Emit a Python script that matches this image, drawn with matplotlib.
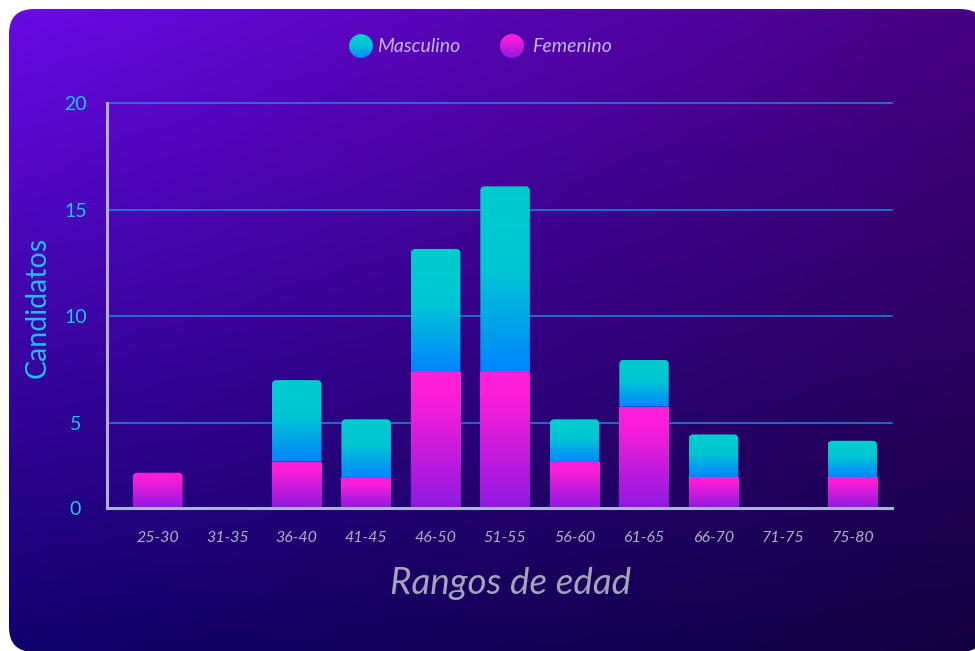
import numpy as np
import matplotlib
matplotlib.use("Agg")
import matplotlib.pyplot as plt
from matplotlib.colors import LinearSegmentedColormap, to_rgb
from matplotlib.patches import FancyBboxPatch, Circle, PathPatch, Rectangle
from matplotlib.path import Path

plt.rcParams["font.family"] = ["Lato", "DejaVu Sans"]

# data
rangos = ["25-30", "31-35", "36-40", "41-45", "46-50", "51-55",
          "56-60", "61-65", "66-70", "71-75", "75-80"]
femenino = [2.65, 0, 3.17, 2.38, 7.37, 7.37, 3.15, 5.75, 2.45, 0, 2.45]
masculino = [0, 0, 3.83, 2.78, 5.79, 8.73, 2.01, 2.2, 2.0, 0, 1.7]
y_ticks = [5, 10, 15, 20]
y_bottom = 0.98

W, H = 975, 651
fig = plt.figure(figsize=(W / 100, H / 100), dpi=100, facecolor="white")

# background card, in pixel coordinates
bg = fig.add_axes([0, 0, 1, 1], zorder=0)
bg.set_xlim(0, W)
bg.set_ylim(H, 0)
bg.axis("off")

tl, tr = np.array(to_rgb("#6a0ae8")), np.array(to_rgb("#460082"))
bl, br = np.array(to_rgb("#10006c")), np.array(to_rgb("#110040"))
u = np.linspace(0, 1, 200)[None, :, None]
v = np.linspace(0, 1, 140)[:, None, None]
img = (1 - v) * ((1 - u) * tl + u * tr) + v * ((1 - u) * bl + u * br)
card = FancyBboxPatch((9, 9), 976, 643, boxstyle="round,pad=0,rounding_size=25",
                      facecolor="none", edgecolor="none")
bg.add_patch(card)
im = bg.imshow(img, extent=(0, W, H, 0), aspect="auto", interpolation="bilinear")
im.set_clip_path(card)

masc_cmap = LinearSegmentedColormap.from_list(
    "masc", [(0, "#0084ff"), (0.55, "#00c6d4"), (1, "#00cccc")])
fem_cmap = LinearSegmentedColormap.from_list(
    "fem", [(0, "#8f19e0"), (0.85, "#ff1ed8"), (1, "#ff1ed8")])

# legend
grad = np.linspace(1, 0, 64)[:, None]
for cx, name, cmap, tx in [(361, "Masculino", masc_cmap, 377),
                           (512, "Femenino", fem_cmap, 532)]:
    c = Circle((cx, 46), 12, facecolor="none", edgecolor="none")
    bg.add_patch(c)
    ci = bg.imshow(cmap(grad), extent=(cx - 12, cx + 12, 58, 34), aspect="auto")
    ci.set_clip_path(c)
    bg.text(tx, 47, name, color="#c4b4e4", fontsize=14, fontstyle="italic",
            va="center", ha="left")

bg.set_xlim(0, W)
bg.set_ylim(H, 0)

# main chart
ax = fig.add_axes([107 / W, (H - 508.3) / H, 785 / W, 405 / H], zorder=1)
ax.patch.set_alpha(0)
x = np.arange(len(rangos))
x_lo, x_hi = -0.731, 10.57

fem_bars = ax.bar(x, femenino, width=0.713, color="none", edgecolor="none")
masc_bars = ax.bar(x, masculino, width=0.713, bottom=femenino,
                   color="none", edgecolor="none")

ax.set_xlim(x_lo, x_hi)
ax.set_ylim(y_bottom, 20)

# corner radius in data units (about 4 px)
rx = 4 / (785 / (x_hi - x_lo))
ry = 4 / (405 / (20 - y_bottom))


def top_round(x0, x1, y0, y1):
    k = 0.5523
    verts = [(x0, y0), (x0, y1 - ry), (x0, y1 - ry + k * ry), (x0 + rx - k * rx, y1),
             (x0 + rx, y1), (x1 - rx, y1), (x1 - rx + k * rx, y1),
             (x1, y1 - ry + k * ry), (x1, y1 - ry), (x1, y0), (x0, y0)]
    codes = [Path.MOVETO, Path.LINETO, Path.CURVE4, Path.CURVE4, Path.CURVE4,
             Path.LINETO, Path.CURVE4, Path.CURVE4, Path.CURVE4, Path.LINETO,
             Path.CLOSEPOLY]
    return Path(verts, codes)


col = np.linspace(0, 1, 128)[:, None]
for fb, mb in zip(fem_bars, masc_bars):
    for bar, cmap, is_top in [(fb, fem_cmap, mb.get_height() == 0),
                              (mb, masc_cmap, True)]:
        h = bar.get_height()
        if h <= 0:
            continue
        x0 = bar.get_x()
        x1 = x0 + bar.get_width()
        y1 = bar.get_y() + h
        y0 = max(bar.get_y(), y_bottom)
        if is_top:
            clip = PathPatch(top_round(x0, x1, y0, y1), transform=ax.transData,
                             facecolor="none", edgecolor="none")
        else:
            clip = Rectangle((x0, y0), x1 - x0, y1 - y0, facecolor="none",
                             edgecolor="none")
        ax.add_patch(clip)
        gi = ax.imshow(cmap(col), extent=(x0, x1, y0, y1), origin="lower",
                       aspect="auto", zorder=2)
        gi.set_clip_path(clip)

ax.set_xlim(x_lo, x_hi)
ax.set_ylim(y_bottom, 20)

for t in y_ticks:
    ax.axhline(t, color="#1a8ae0", linewidth=1.1, zorder=1, clip_on=False)

ax.set_yticks([y_bottom] + y_ticks)
ax.set_yticklabels(["0"] + [str(t) for t in y_ticks], ha="center")
ax.set_xticks(x)
ax.set_xticklabels(rangos, fontstyle="italic")
ax.tick_params(axis="y", length=0, pad=22.7, labelsize=14, labelcolor="#20c4ee")
ax.tick_params(axis="x", length=0, pad=16, labelsize=11.5, labelcolor="#b4accb")

for s in ["top", "right"]:
    ax.spines[s].set_visible(False)
for s in ["left", "bottom"]:
    ax.spines[s].set_color("#b0b0e0")
    ax.spines[s].set_linewidth(2.2)
    ax.spines[s].set_zorder(3)

ax.set_ylabel("Candidatos", color="#1ec0ee", fontsize=20.5, va="center")
ax.yaxis.set_label_coords((38 - 107) / 785, 0.497)
fig.text(511 / W, 1 - 583 / H, "Rangos de edad", color="#a6a2b8", fontsize=26.5,
         fontstyle="italic", ha="center", va="center")

fig.savefig("out.png", dpi=100, facecolor="white")
